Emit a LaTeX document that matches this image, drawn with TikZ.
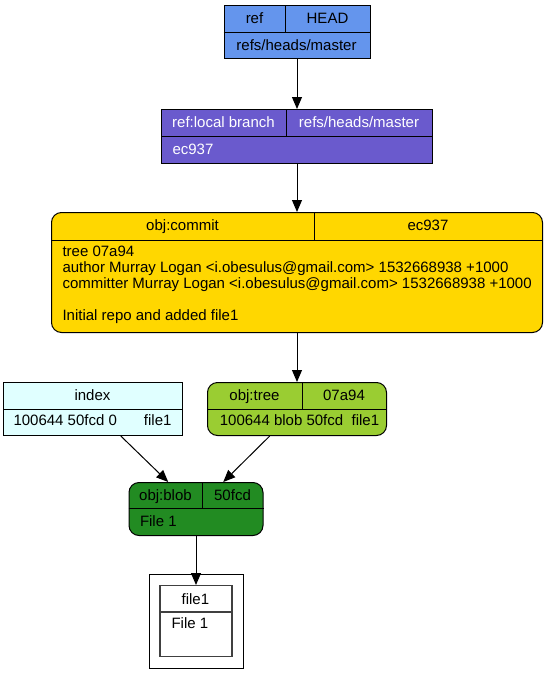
\documentclass[tikz,border=0pt]{standalone}
\usepackage{fontspec}
\setmainfont{Liberation Sans}
\usepackage{tikz}
\usetikzlibrary{positioning}
\usetikzlibrary{arrows.meta}
\definecolor{RefBlue}{HTML}{6495ED}
\definecolor{BranchPurple}{HTML}{6A5ACD}
\definecolor{CommitGold}{HTML}{FFD700}
\definecolor{TreeGreen}{HTML}{9ACD32}
\definecolor{BlobGreen}{HTML}{228B22}
\definecolor{IndexCyan}{HTML}{E0FFFF}
\tikzset{
every picture/.style={line width=1pt},
recnode/.style={rectangle, draw=black, line width=1pt, inner sep=0, anchor=north},
mrecnode/.style={recnode, rounded corners=10pt},
celltext/.style={inner sep=0, anchor=base, font=\fontsize{15}{15.6}\selectfont},
lefttext/.style={celltext, anchor=base west},
whitetext/.style={text=white}
}

\begin{document}
\begin{tikzpicture}[x=1pt, y=-1pt, >={Triangle[length=12pt,width=10pt]}]
\useasboundingbox (0,0) rectangle (548,683);
%Nodes
\node [recnode, fill=RefBlue, minimum width=146pt, minimum height=53pt] (ref) at (297,5) {};
\node [recnode, fill=BranchPurple, minimum width=271pt, minimum height=54pt] (local) [below=50pt of ref] {};
\node [mrecnode, fill=CommitGold, minimum width=491pt, minimum height=120pt] (commit) [below=48pt of local] {};
\node [mrecnode, fill=TreeGreen, minimum width=179pt, minimum height=53pt] (tree) [below=49pt of commit] {};
\node [recnode, fill=IndexCyan, minimum width=179pt, minimum height=53pt] (index) [left=24pt of tree] {};
\node [mrecnode, fill=BlobGreen, minimum width=134pt, minimum height=53pt] (blob) at (196,482) {};
\node [recnode, draw=black!75, line width=1.3pt, minimum width=72pt, minimum height=71pt] (file) [below=49pt of blob] {};
\node [recnode, anchor=center, minimum size=94pt] (cluster) at (file) {};

%Fields
\draw ([yshift=-27pt]ref.north west) -- ([yshift=-27pt]ref.north east);
\draw ([xshift=62pt]ref.north west) -- ([xshift=62pt,yshift=-27pt]ref.north west);
\draw ([yshift=-27pt]local.north west) -- ([yshift=-27pt]local.north east);
\draw ([xshift=125pt]local.north west) -- ([xshift=125pt,yshift=-27pt]local.north west);
\draw ([yshift=-28pt]commit.north west) -- ([yshift=-28pt]commit.north east);
\draw ([xshift=263pt]commit.north west) -- ([xshift=263pt,yshift=-28pt]commit.north west);
\draw ([yshift=-27pt]index.north west) -- ([yshift=-27pt]index.north east);
\draw ([yshift=-27pt]tree.north west) -- ([yshift=-27pt]tree.north east);
\draw ([xshift=95pt]tree.north west) -- ([xshift=95pt,yshift=-27pt]tree.north west);
\draw ([yshift=-26pt]blob.north west) -- ([yshift=-26pt]blob.north east);
\draw ([xshift=74pt]blob.north west) -- ([xshift=74pt,yshift=-26pt]blob.north west);
\draw [draw=black!75, line width=1.3pt] ([yshift=-27pt]file.north west) -- ([yshift=-27pt]file.north east);

%Texts
\node [celltext] (refkey) at ([shift={(31,18.5)}]ref.north west) {ref};
\node [celltext] (refval) at ([shift={(104,18.5)}]ref.north west) {HEAD};
\node [celltext] (refbody) at ([shift={(73,45)}]ref.north west) {refs/heads/master};
\node [celltext, whitetext] (localkey) at ([shift={(62.5,18.5)}]local.north west) {ref:local branch};
\node [celltext, whitetext] (localval) at ([shift={(198,18.5)}]local.north west) {refs/heads/master};
\node [lefttext, whitetext] (localbody) at ([shift={(11,45)}]local.north west) {ec937};
\node [celltext] (commitkey) at ([shift={(131.5,18.5)}]commit.north west) {obj:commit};
\node [celltext] (commitval) at ([shift={(377,18.5)}]commit.north west) {ec937};
\node [lefttext] (committree) at ([shift={(11,44.5)}]commit.north west) {tree 07a94};
\node [lefttext] (commitauthor) at ([shift={(11,60.5)}]commit.north west) {author Murray Logan <i.obesulus@gmail.com> 1532668938 +1000};
\node [lefttext] (commitcommitter) at ([shift={(11,76.5)}]commit.north west) {committer Murray Logan <i.obesulus@gmail.com> 1532668938 +1000};
\node [lefttext] (commitmsg) at ([shift={(11,108.5)}]commit.north west) {Initial repo and added file1};
\node [celltext] (indexkey) at ([shift={(89.5,18.5)}]index.north west) {index};
\node [celltext] (indexbody) at ([shift={(89.5,43.5)}]index.north west) {100644 50fcd 0\hspace{27pt}file1};
\node [celltext] (treekey) at ([shift={(47.5,18.5)}]tree.north west) {obj:tree};
\node [celltext] (treeval) at ([shift={(137,18.5)}]tree.north west) {07a94};
\node [celltext] (treebody) at ([shift={(92.5,43.5)}]tree.north west) {100644 blob 50fcd\ \ file1};
\node [celltext] (blobkey) at ([shift={(37,18.5)}]blob.north west) {obj:blob};
\node [celltext] (blobval) at ([shift={(104,18.5)}]blob.north west) {50fcd};
\node [lefttext] (blobbody) at ([shift={(11,44)}]blob.north west) {File 1};
\node [celltext] (filekey) at ([shift={(36,19)}]file.north west) {file1};
\node [lefttext] (filebody) at ([shift={(11.7,43)}]file.north west) {File 1};

%Lines
\draw [->] (ref.south) -- (local.north);
\draw [->] (local.south) -- (commit.north);
\draw [->] (commit.south) -- (tree.north);
\draw [->] (index) -- (blob);
\draw [->] (tree) -- (blob);
\draw [->] (blob) -- (file);

\end{tikzpicture}
\end{document}
